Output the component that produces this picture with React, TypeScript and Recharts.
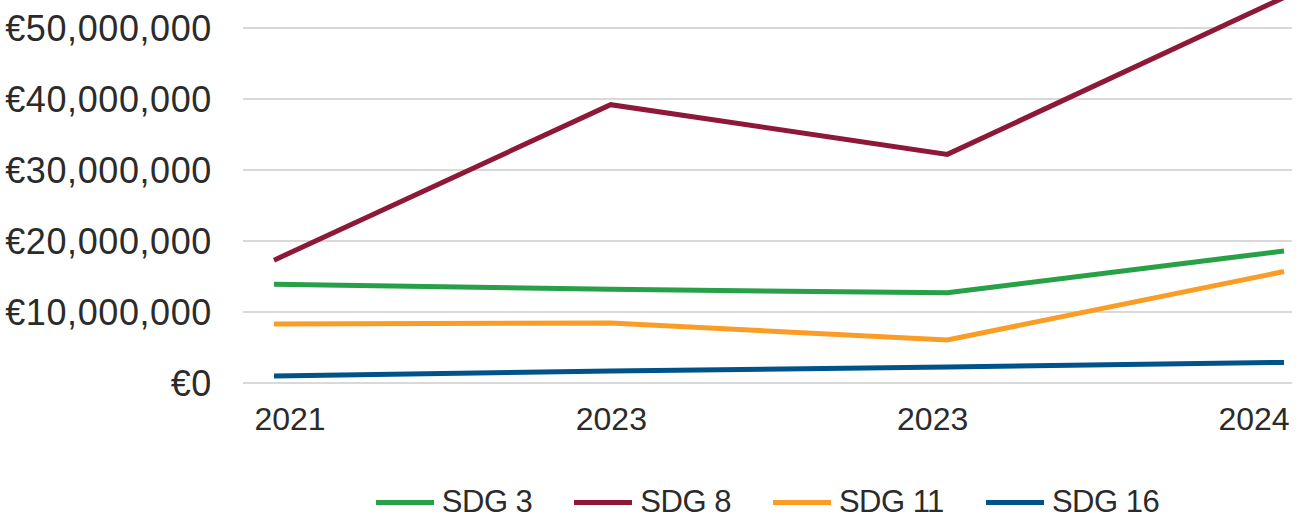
import { LineChart, Line, XAxis, YAxis, CartesianGrid, Legend } from 'recharts';

const years = ['2021', '2023', '2023', '2024'];
const sdg3 = [13900000, 13200000, 12700000, 18600000];
const sdg8 = [17300000, 39200000, 32200000, 54300000];
const sdg11 = [8300000, 8450000, 6050000, 15700000];
const sdg16 = [1000000, 1700000, 2250000, 2900000];
const yTicks = [0, 10000000, 20000000, 30000000, 40000000, 50000000];

const series = [
  { key: 'sdg3', name: 'SDG 3', color: '#27A048' },
  { key: 'sdg8', name: 'SDG 8', color: '#8E1838' },
  { key: 'sdg11', name: 'SDG 11', color: '#F99D26' },
  { key: 'sdg16', name: 'SDG 16', color: '#005389' },
];

const data = years.map((year, i) => ({
  year,
  sdg3: sdg3[i],
  sdg8: sdg8[i],
  sdg11: sdg11[i],
  sdg16: sdg16[i],
}));

const font = '"Liberation Sans", Arial, sans-serif';
const textColor = '#2b2b2b';

const euro = (v: number) => '€' + v.toLocaleString('en-US');

function LegendRow() {
  return (
    <div
      style={{
        display: 'flex',
        justifyContent: 'center',
        alignItems: 'center',
        height: 40,
        fontFamily: font,
        fontSize: 31,
        letterSpacing: -0.5,
        color: textColor,
      }}
    >
      {series.map((s, i) => (
        <div
          key={s.key}
          style={{ display: 'flex', alignItems: 'center', marginLeft: i === 0 ? 0 : 42 }}
        >
          <span style={{ width: 58, height: 5, background: s.color, marginRight: 8 }} />
          <span>{s.name}</span>
        </div>
      ))}
    </div>
  );
}

export default function App() {
  return (
    <div
      style={{
        position: 'absolute',
        left: 0,
        top: 0,
        width: 1306,
        height: 522,
        overflow: 'hidden',
        background: '#fff',
      }}
    >
      <div style={{ position: 'absolute', left: 0, top: -43 }}>
        <LineChart
          width={1306}
          height={565}
          data={data}
          margin={{ top: 0, right: 14, bottom: 0, left: 0 }}
        >
          <CartesianGrid vertical={false} stroke="#b3b3b3" strokeWidth={1} />
          <XAxis
            dataKey="year"
            axisLine={false}
            tickLine={false}
            height={99}
            tickMargin={18}
            padding={{ left: 47, right: 38 }}
            interval={0}
            tick={{ fill: textColor, fontSize: 32, fontFamily: font }}
          />
          <XAxis xAxisId="pts" dataKey="year" hide padding={{ left: 31, right: 8 }} />
          <YAxis
            width={243}
            domain={[0, 60000000]}
            ticks={yTicks}
            axisLine={false}
            tickLine={false}
            tickSize={6}
            tickMargin={25}
            tickFormatter={euro}
            tick={{ fill: textColor, fontSize: 36, fontFamily: font, letterSpacing: 0.6 }}
          />
          {series.map((s) => (
            <Line
              key={s.key}
              xAxisId="pts"
              dataKey={s.key}
              name={s.name}
              stroke={s.color}
              strokeWidth={5}
              dot={false}
              activeDot={false}
              type="linear"
              isAnimationActive={false}
            />
          ))}
          <Legend
            verticalAlign="bottom"
            content={() => <LegendRow />}
            wrapperStyle={{ left: 243, width: 1049 }}
          />
        </LineChart>
      </div>
    </div>
  );
}
